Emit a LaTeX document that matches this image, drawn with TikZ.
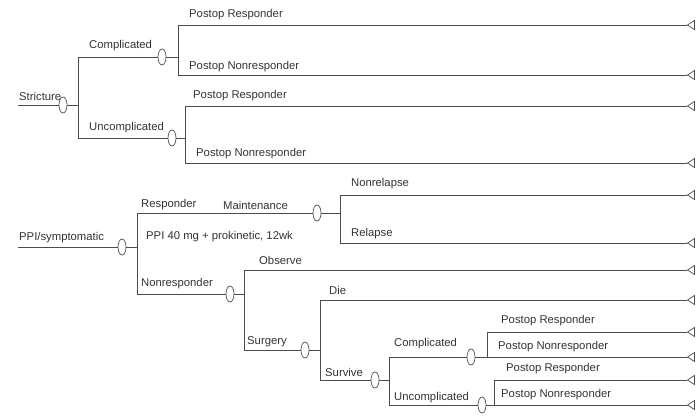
\documentclass[tikz,border=0pt]{standalone}
\usepackage{fontspec}
\setmainfont{Liberation Sans}
\usetikzlibrary{arrows.meta,
                shapes.geometric,
                calc}
\begin{document}
\begin{tikzpicture}[x=1pt, y=-1pt,
     branch/.style = {draw=black!70, line width=0.7pt},
     chance/.style = {ellipse, draw=black!70, fill=white, line width=0.7pt,
                      inner sep=0pt, minimum width=8pt, minimum height=16pt},
       term/.style = {isosceles triangle, shape border rotate=180, draw=black!70,
                      line width=0.7pt, inner sep=0pt, minimum height=7pt,
                      minimum width=9pt, isosceles triangle stretches},
        lbl/.style = {anchor=south west, inner sep=1pt, font=\fontsize{11.3}{13}\selectfont,
                      text=black!80}
                    ]
\useasboundingbox (0,0) rectangle (698,416);

\coordinate (s1) at (18,105);
\coordinate (s2) at (18,247);
\node[chance] (c1) at (63,105) {};
\node[chance] (c2) at (162,57) {};
\node[chance] (c3) at (172,138) {};
\node[chance] (c4) at (122,247) {};
\node[chance] (c5) at (317,213) {};
\node[chance] (c6) at (230,294) {};
\node[chance] (c7) at (305,350) {};
\node[chance] (c8) at (375,380) {};
\node[chance] (c9) at (471,357) {};
\node[chance] (c10) at (482,405) {};

\foreach \i/\y in {1/25, 2/75, 3/106, 4/163, 5/195, 6/243, 7/270, 8/300,
                   9/332, 10/357, 11/380, 12/405}
    \node[term] (t\i) at (692,\y) {};

\coordinate (v1) at (78,0);
\coordinate (v2) at (178,0);
\coordinate (v3) at (185,0);
\coordinate (v4) at (137,0);
\coordinate (v5) at (340,0);
\coordinate (v6) at (244,0);
\coordinate (v7) at (320,0);
\coordinate (v8) at (389,0);
\coordinate (v9) at (487,0);
\coordinate (v10) at (494,0);

\node[lbl] (l0)  at (18,102)  {Stricture};
\node[lbl] (l1)  at (88,52)   {Complicated};
\node[lbl] (l2)  at (188,21)  {Postop Responder};
\node[lbl] (l3)  at (188,73)  {Postop Nonresponder};
\node[lbl] (l4)  at (88,134)  {Uncomplicated};
\node[lbl] (l5)  at (192,102) {Postop Responder};
\node[lbl] (l6)  at (195,160) {Postop Nonresponder};
\node[lbl] (l7)  at (18,244)  {PPI/symptomatic};
\node[lbl] (l8)  at (140,211) {Responder};
\node[lbl] (l9)  at (222,211) {Maintenance};
\node[lbl] (l10) at (350,190) {Nonrelapse};
\node[lbl] (l11) at (350,240) {Relapse};
\node[lbl] (l12) at (145,243) {PPI 40 mg + prokinetic, 12wk};
\node[lbl] (l13) at (140,290) {Nonresponder};
\node[lbl] (l14) at (258,266) {Observe};
\node[lbl] (l15) at (246,348) {Surgery};
\node[lbl] (l16) at (328,296) {Die};
\node[lbl] (l17) at (324,378) {Survive};
\node[lbl] (l18) at (393,350) {Complicated};
\node[lbl] (l19) at (393,404) {Uncomplicated};
\node[lbl] (l20) at (500,327) {Postop Responder};
\node[lbl] (l21) at (497,353) {Postop Nonresponder};
\node[lbl] (l22) at (505,375) {Postop Responder};
\node[lbl] (l23) at (500,401) {Postop Nonresponder};

\draw[branch] (s1) -- (c1.west);
\draw[branch] (s2) -- (c4.west);
\draw[branch] (c1.east) -- (c1.east -| v1) |- (c2.west);
\draw[branch] (c1.east -| v1) |- (c3.west);
\draw[branch] (c2.east) -- (c2.east -| v2) |- (t1.west);
\draw[branch] (c2.east -| v2) |- (t2.west);
\draw[branch] (c3.east) -- (c3.east -| v3) |- (t3.west);
\draw[branch] (c3.east -| v3) |- (t4.west);
\draw[branch] (c4.east) -- (c4.east -| v4) |- (c5.west);
\draw[branch] (c4.east -| v4) |- (c6.west);
\draw[branch] (c5.east) -- (c5.east -| v5) |- (t5.west);
\draw[branch] (c5.east -| v5) |- (t6.west);
\draw[branch] (c6.east) -- (c6.east -| v6) |- (t7.west);
\draw[branch] (c6.east -| v6) |- (c7.west);
\draw[branch] (c7.east) -- (c7.east -| v7) |- (t8.west);
\draw[branch] (c7.east -| v7) |- (c8.west);
\draw[branch] (c8.east) -- (c8.east -| v8) |- (c9.west);
\draw[branch] (c8.east -| v8) |- (c10.west);
\draw[branch] (c9.east) -- (c9.east -| v9) |- (t9.west);
\draw[branch] (c9.east -| v9) |- (t10.west);
\draw[branch] (c10.east) -- (c10.east -| v10) |- (t11.west);
\draw[branch] (c10.east -| v10) |- (t12.west);
\end{tikzpicture}
\end{document}
